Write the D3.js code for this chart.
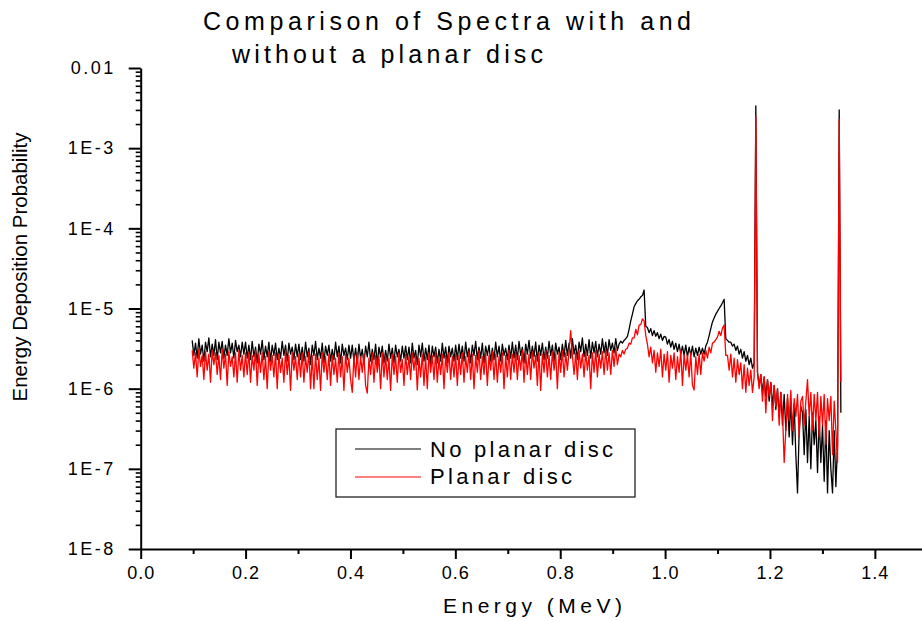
<!DOCTYPE html>
<html><head><meta charset="utf-8">
<script src="https://cdn.jsdelivr.net/npm/d3@7"></script>
<style>
html,body{margin:0;padding:0;background:#fff;}
svg{display:block;font-family:"Liberation Sans",Arial,sans-serif;}
</style></head><body>
<svg id="chart" width="922" height="621"></svg>
<script>
const titleLines = ["Comparison of Spectra with and", "without a planar disc"];
const xLabel = "Energy (MeV)";
const yLabel = "Energy Deposition Probability";
const seriesNames = ["No planar disc", "Planar disc"];
const seriesColors = ["#000000", "#ff0000"];
const xTicks = [0, 0.2, 0.4, 0.6, 0.8, 1.0, 1.2, 1.4];
const xMinorTicks = [0.1, 0.3, 0.5, 0.7, 0.9, 1.1, 1.3, 1.5];
const yTicks = [1e-8, 1e-7, 1e-6, 1e-5, 1e-4, 1e-3, 1e-2];
const yTickLabels = ["1E-8", "1E-7", "1E-6", "1E-5", "1E-4", "1E-3", "0.01"];
// channel grid of the spectra (MeV)
const energyStart = 0.09816;
const energyStep = 0.00318;
// values below are in units of 1E-6
const valueUnit = 1e-6;
const noDisc = [
4.0,2.6,3.7,2.4,4.2,2.7,3.5,2.2,3.8,2.9,4.3,2.5,3.6,2.6,4.1,2.3,3.8,2.8,3.9,2.4,3.5,2.6,4.2,2.8,3.7,2.4,4.0,2.9,3.5,2.5,3.8,2.7,
3.8,2.4,3.5,2.3,3.9,2.5,3.3,2.1,3.6,2.7,4.0,2.3,3.4,2.5,3.8,2.2,3.5,2.6,3.7,2.3,3.2,2.4,3.9,2.6,3.5,2.2,3.7,2.7,3.3,2.3,3.6,2.5,
3.6,2.3,3.3,2.2,3.8,2.5,3.2,2.0,3.5,2.6,3.9,2.3,3.2,2.4,3.7,2.1,3.4,2.6,3.5,2.2,3.1,2.3,3.8,2.5,3.4,2.1,3.6,2.6,3.2,2.3,3.5,2.4,
3.5,2.2,3.2,2.1,3.6,2.4,3.1,2.0,3.4,2.5,3.8,2.2,3.1,2.3,3.6,2.0,3.3,2.5,3.4,2.1,3.0,2.2,3.6,2.4,3.2,2.1,3.5,2.5,3.1,2.2,3.4,2.4,
3.4,2.3,3.3,2.1,3.7,2.4,3.0,2.0,3.5,2.5,3.7,2.2,3.2,2.3,3.5,2.0,3.4,2.5,3.3,2.1,3.1,2.2,3.7,2.4,3.3,2.1,3.4,2.5,3.2,2.2,3.5,2.3,
3.6,2.4,3.4,2.2,3.8,2.5,3.2,2.1,3.5,2.6,3.9,2.3,3.3,2.4,3.7,2.1,3.4,2.6,3.5,2.2,3.2,2.3,3.8,2.5,3.4,2.2,3.6,2.6,3.2,2.3,3.5,2.4,
3.8,2.4,3.5,2.3,3.9,2.6,3.3,2.1,3.6,2.7,4.0,2.4,3.4,2.5,3.8,2.2,3.5,2.6,3.7,2.3,3.3,2.4,3.9,2.6,3.5,2.2,3.7,2.7,3.3,2.3,3.6,2.5,
4.0,2.6,3.7,2.4,4.2,2.7,3.5,2.3,3.8,2.9,4.3,2.5,3.6,2.6,4.1,2.4,3.8,2.8,3.9,2.5,3.6,2.7,4.2,2.8,3.8,2.6,4.1,3.0,3.7,2.8,4.2,3.0,
3.6,3.9,3.7,4.0,4.2,4.5,5.5,7.0,8.5,10.5,11.5,12.5,13.0,14.0,14.5,17.0,
6.0,
5.8,5.0,5.6,4.6,5.3,4.5,5.0,4.2,4.8,4.0,4.5,
4.4,3.6,4.1,3.3,3.9,3.1,3.7,2.9,3.6,2.7,3.4,2.6,3.5,2.5,3.3,2.6,3.4,2.5,3.2,2.6,3.3,
2.7,3.2,2.7,3.4,3.8,4.6,5.6,6.8,7.6,8.5,9.2,10.0,10.8,11.8,13.0,
4.2,
4.0,3.8,3.8,3.4,3.6,3.0,3.4,2.7,3.1,2.4,2.9,2.2,2.6,2.0,2.4,1.8,2.1,
3360,
1.6,1.1,1.5,0.9,1.4,0.8,1.3,0.7,1.2,0.6,1.1,0.55,
1.0,0.45,0.9,0.35,0.85,0.3,0.75,0.25,0.7,0.2,0.65,0.15,0.05,0.3,0.6,
0.5,0.15,0.55,0.12,0.45,0.1,0.5,0.2,0.4,0.09,0.45,0.12,0.35,0.07,0.4,0.05,0.3,0.1,0.05,0.3,0.06,0.2,
3000,
0.5
];
const planarDisc = [
3.0,1.8,2.8,1.4,3.1,1.9,2.6,1.3,2.9,1.7,2.7,1.2,3.0,2.0,2.8,1.5,2.6,1.3,3.1,1.8,2.7,1.1,2.9,1.9,2.5,1.4,2.8,1.2,3.0,1.7,2.6,1.4,
2.8,1.5,2.9,1.2,2.6,1.7,3.0,1.1,2.7,1.6,2.8,1.3,2.5,1.0,2.9,1.7,2.6,1.4,2.8,1.0,2.7,1.6,2.4,1.2,3.0,1.5,2.6,0.95,2.8,1.7,2.5,1.3,
2.7,1.4,2.8,1.2,2.5,1.6,2.9,1.0,2.6,1.0,2.7,1.3,2.4,0.95,2.8,1.6,2.5,1.3,2.7,1.1,2.6,1.5,2.4,1.2,2.8,1.4,2.5,0.95,2.7,1.6,2.4,1.3,
0.9,2.6,1.4,2.8,1.3,2.5,1.6,2.7,1.1,0.88,2.4,1.5,2.8,1.2,2.6,1.6,2.5,1.0,2.8,1.4,2.6,1.3,2.4,0.95,2.7,1.5,2.5,1.2,2.8,1.6,2.3,1.1,
2.7,1.5,2.5,1.3,2.8,1.7,2.6,0.96,2.4,1.4,2.7,1.1,2.5,1.0,2.8,1.6,2.6,1.3,2.9,1.2,2.4,1.5,2.7,1.0,2.6,1.6,2.8,1.3,2.5,1.4,2.7,1.1,
2.6,1.5,2.8,1.2,2.5,1.6,2.9,1.3,2.7,1.0,2.6,1.6,3.0,1.3,2.5,1.5,2.8,1.1,2.6,1.7,2.9,1.3,2.7,1.2,2.5,1.6,2.8,1.0,2.6,1.4,3.0,1.3,
2.7,1.6,2.9,1.3,2.6,1.7,3.0,1.2,2.8,1.5,2.7,1.3,2.9,1.8,2.6,1.1,2.8,0.95,2.7,1.6,3.0,1.4,2.6,1.3,2.9,1.7,2.7,1.0,2.8,1.6,3.0,1.4,
2.8,1.7,2.9,5.3,2.6,1.5,2.8,1.3,3.0,1.8,2.7,1.4,2.9,1.7,2.6,1.0,2.8,1.6,3.0,1.4,2.7,1.8,2.9,1.5,3.1,1.7,2.8,1.5,3.0,1.9,3.2,2.0,
2.7,2.5,3.0,2.7,3.1,3.2,3.7,3.6,4.3,4.3,5.5,4.7,6.2,6.3,7.4,7.0,
4.6,
3.6,2.5,3.3,2.1,3.0,1.6,2.8,1.9,3.1,1.4,2.7,1.7,2.9,1.2,2.6,1.8,2.8,1.3,2.5,1.6,3.0,1.1,2.7,1.7,2.6,1.4,2.8,1.1,0.96,2.5,1.5,2.7,1.5,2.8,
2.2,3.0,2.4,3.3,2.8,3.7,3.8,4.1,4.4,5.2,4.6,5.7,6.2,
2.6,
2.6,1.7,2.7,1.4,2.4,1.2,2.3,1.5,2.1,1.0,2.0,0.9,1.8,1.1,1.7,0.9,1.4,
2500,
1.6,1.0,1.5,0.7,1.4,0.5,1.3,0.8,1.2,0.4,1.1,0.6,
1.0,0.35,0.9,0.5,0.12,0.3,0.85,0.4,0.95,0.3,0.75,0.45,0.85,0.25,0.7,
0.8,0.35,0.7,1.3,0.45,0.9,0.3,0.85,0.4,0.9,0.25,0.8,0.35,0.85,0.2,0.75,0.4,0.8,0.15,0.7,0.3,0.12,
2300,
1.2
];

const svg = d3.select("#chart");
const FONT = '"Liberation Sans", Arial, sans-serif';

const x = d3.scaleLinear().domain([0, 1.5]).range([140.7, 927.3]);
const y = d3.scaleLog().domain([1e-8, 1e-2]).range([549, 68]);

const toPoints = arr => arr.map((v, i) => ({e: energyStart + i * energyStep, v: v * valueUnit}));
const series = [toPoints(noDisc), toPoints(planarDisc)];

const line = d3.line().x(d => x(d.e)).y(d => y(d.v));
series.forEach((s, k) => {
  svg.append("path").datum(s)
    .attr("fill", "none")
    .attr("stroke", seriesColors[k])
    .attr("stroke-width", 1.3)
    .attr("stroke-linejoin", "round")
    .attr("d", line);
});

// minor y ticks
const yMinor = [];
for (let d = -8; d < -2; d++) for (let m = 2; m <= 9; m++) yMinor.push(m * Math.pow(10, d));
const gyMinor = svg.append("g").attr("transform", "translate(140.7,0)")
  .call(d3.axisLeft(y).tickValues(yMinor).tickSize(5).tickFormat(""));
gyMinor.select(".domain").remove();
gyMinor.selectAll("line").attr("stroke-width", 1.6);

const gy = svg.append("g").attr("transform", "translate(140.7,0)")
  .call(d3.axisLeft(y).tickValues(yTicks).tickFormat((d, i) => yTickLabels[i])
    .tickSize(12).tickSizeOuter(0).tickPadding(13));
gy.select(".domain").attr("stroke-width", 2);
gy.selectAll("line").attr("stroke-width", 2);
gy.selectAll("text").attr("font-size", 18).attr("font-family", FONT)
  .style("letter-spacing", "2.5px").attr("fill", "#000");

// x axis
const gxMinor = svg.append("g").attr("transform", "translate(0,549)")
  .call(d3.axisBottom(x).tickValues(xMinorTicks).tickSize(5).tickFormat(""));
gxMinor.select(".domain").remove();
gxMinor.selectAll("line").attr("stroke-width", 2);

const gx = svg.append("g").attr("transform", "translate(0,549)")
  .call(d3.axisBottom(x).tickValues(xTicks).tickFormat(d3.format(".1f"))
    .tickSize(10).tickSizeOuter(0).tickPadding(7));
gx.select(".domain").attr("stroke-width", 2);
gx.selectAll("line").attr("stroke-width", 2);
gx.selectAll("text").attr("font-size", 18).attr("font-family", FONT)
  .style("letter-spacing", "1px").attr("fill", "#000");

// titles
svg.append("text").attr("x", 203).attr("y", 30).attr("font-size", 25)
  .attr("textLength", 488).attr("lengthAdjust", "spacing").text(titleLines[0]);
svg.append("text").attr("x", 232).attr("y", 63).attr("font-size", 25)
  .attr("textLength", 311).attr("lengthAdjust", "spacing").text(titleLines[1]);

svg.append("text").attr("x", 443).attr("y", 613).attr("font-size", 21)
  .attr("textLength", 179).attr("lengthAdjust", "spacing").text(xLabel);

svg.append("text").attr("transform", "translate(27,267) rotate(-90)")
  .attr("text-anchor", "middle").attr("font-size", 20.5).text(yLabel);

// legend
svg.append("rect").attr("x", 336).attr("y", 429).attr("width", 299).attr("height", 68)
  .attr("fill", "#fff").attr("stroke", "#222").attr("stroke-width", 1.3);
const legY = [449, 477];
const legTextY = [457, 484];
const legLen = [183, 142];
seriesNames.forEach((n, k) => {
  svg.append("line").attr("x1", 355).attr("x2", 421).attr("y1", legY[k]).attr("y2", legY[k])
    .attr("stroke", seriesColors[k]).attr("stroke-width", 1);
  svg.append("text").attr("x", 430).attr("y", legTextY[k]).attr("font-size", 22)
    .attr("textLength", legLen[k]).attr("lengthAdjust", "spacing").text(n);
});
</script>
</body></html>
